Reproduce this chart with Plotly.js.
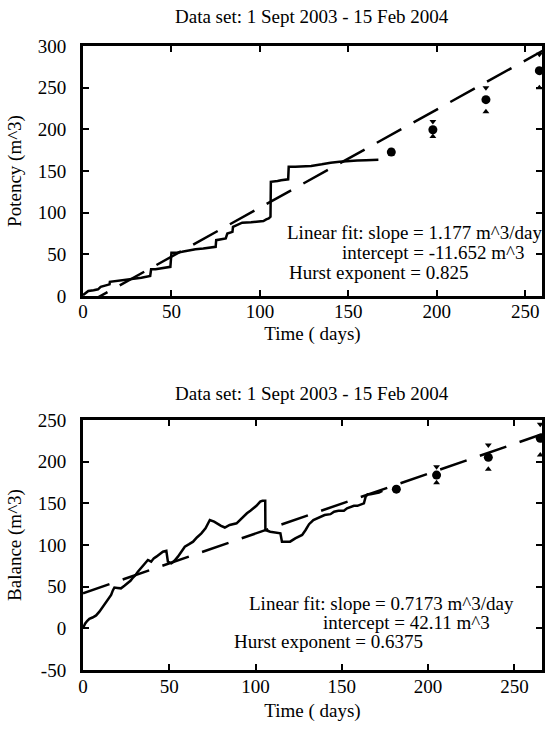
<!DOCTYPE html>
<html>
<head>
<meta charset="utf-8">
<script src="https://cdn.plot.ly/plotly-3.0.1.min.js"></script>
<style>html,body{margin:0;padding:0;background:#fff;}#chart{width:545px;height:729px;}</style>
</head>
<body>
<div id="chart"></div>
<script>
// ---- Top panel: Potency ----
const potDays = [0,2,3,6,8.5,10,12,15,15.2,19,22,26,29.4,33,38,38.5,41,43.7,47,49.4,50,53,56,60,63.6,68,72,75,75.3,78,80.7,81.6,83,84.5,84.8,86,88,90,95,99,102,103.6,105,106,106.2,110,112,116,116.3,120,124,129,135,140,145,150,155,160,167];
const potVals = [1,4,6,7,8,11,12,14,17,18,19,20,21,22,24,32,32,33,34,35,52,52,53,55,56,57,58,59,67,68,69,75,76,77,83,84,86,88,88.5,89,90,92,93,95,137,138,139,140,155,155,155.5,156,158,160,161,162,162.5,163,163.5];
const potPredDays = [174.3,197.8,227.8,258];
const potPredVals = [172.7,199.5,235.6,270.4];
const potPredUpper = [175,209.5,250,290];
const potPredLower = [170.5,191.5,221,250];
const potSlope = 1.177, potIntercept = -11.652;
const potFitDays = [0, 260];

// ---- Bottom panel: Balance ----
const balDays = [0,1.2,2.5,3.7,5.5,7.6,9.5,11.5,13,14.4,16.3,17.3,18.2,20,22,24,26,27.5,29,30.5,31.8,33,34.7,36,37.6,39.5,41,42.5,44.5,46.3,48.3,49.2,51.2,53,55,57,59,61.5,63.8,66,68.6,71,73.5,76,78.3,80,82.2,85,89,91,93,95,97,98.8,100.5,102.7,104,105.6,105.7,108.5,111,114.4,115.3,118,120,123,125,127,129,131,133.5,135.7,137.6,140,143.4,145.5,148,151.2,153,155,157,159,161,162.8,163.8,165,166.7,169,171.5,173.5];
const balVals = [0,5.5,9,11.5,13,15.5,20,25.5,30,34,40,45.5,49,48.5,48,51,54,57,61,64,68,71,76,78,82,80,84,86,89,92,93,80,78,81,86,92,98,101,104,109,114,120,130,128,125,123,121,124,126,130,135,138,141,144,147,152,153,153,118,116,115,114,104,104,104,108,110,112,118,125,130,132,134,136,137,140,141,141,144,146,147,147,149,150,158,161,161,162,163,165];
const balPredDays = [181.6,204.9,234.9,265];
const balPredVals = [167,183.9,205.2,228];
const balPredUpper = [169,194,220,245];
const balPredLower = [165,174.7,191,208];
const balSlope = 0.7173, balIntercept = 42.11;
const balFitDays = [0, 266];

const xTicks = [0,50,100,150,200,250];
const potTicks = [0,50,100,150,200,250,300];
const balTicks = [-50,0,50,100,150,200,250];
const balTickText = ["-50","0","50","100","150","200","250"];

const titleText = "Data set: 1 Sept 2003 - 15 Feb 2004";
const potLines = ["Linear fit: slope = 1.177 m^3/day","intercept = -11.652 m^3","Hurst exponent = 0.825"];
const balLines = ["Linear fit: slope = 0.7173 m^3/day","intercept = 42.11 m^3","Hurst exponent = 0.6375"];

const FONT = "Liberation Serif, Times New Roman, serif";
const FS = 19;

function fitY(days, s, b){ return days.map(d => s*d + b); }

function panel(xa, ya, days, vals, pd, pv, pu, pl, fd, s, b){
  return [
    {x: days, y: vals, xaxis: xa, yaxis: ya, mode: 'lines', line:{color:'#000', width:2.5}, hoverinfo:'skip'},
    {x: fd, y: fitY(fd, s, b), xaxis: xa, yaxis: ya, mode: 'lines', line:{color:'#000', width:2.5, dash:'28px,14px'}, hoverinfo:'skip'},
    {x: pd, y: pv, xaxis: xa, yaxis: ya, mode: 'markers', marker:{symbol:'circle', size:9, color:'#000'}},
    {x: pd, y: pu, xaxis: xa, yaxis: ya, mode: 'markers', marker:{symbol:'triangle-down', size:6, color:'#000'}},
    {x: pd, y: pl, xaxis: xa, yaxis: ya, mode: 'markers', marker:{symbol:'triangle-up', size:6, color:'#000'}}
  ];
}

const data = [].concat(
  panel('x','y', potDays, potVals, potPredDays, potPredVals, potPredUpper, potPredLower, potFitDays, potSlope, potIntercept),
  panel('x2','y2', balDays, balVals, balPredDays, balPredVals, balPredUpper, balPredLower, balFitDays, balSlope, balIntercept)
);

const W = 545, H = 729, ML = 83, MR = 3, MT = 46, MB = 59;
const PW = W - ML - MR, PH = H - MT - MB;
function px2x(px){ return (px - ML) / PW; }
function py2y(py){ return (H - MB - py) / PH; }

const axBase = {
  showline: true, linecolor: '#000', linewidth: 3, mirror: 'allticks',
  ticks: 'inside', ticklen: 6, tickwidth: 2, tickcolor: '#000',
  showgrid: false, zeroline: false, automargin: false,
  tickfont: {family: FONT, size: FS, color: '#000'}
};

const layout = {
  width: W, height: H,
  margin: {l: ML, r: MR, t: MT, b: MB},
  paper_bgcolor: '#fff', plot_bgcolor: '#fff',
  showlegend: false,
  font: {family: FONT, size: FS, color: '#000'},
  xaxis: Object.assign({}, axBase, {anchor: 'y', domain: [0,1], range: [0, 259.5], tickvals: xTicks, ticklabelstandoff: -4,
    title: {text: 'Time ( days)', font: {family: FONT, size: FS}, standoff: 6}}),
  yaxis: Object.assign({}, axBase, {anchor: 'x', domain: [py2y(296), 1], range: [0, 300], tickvals: potTicks, ticklabelstandoff: 10,
    title: {text: 'Potency (m^3)', font: {family: FONT, size: FS}, standoff: 12}}),
  xaxis2: Object.assign({}, axBase, {anchor: 'y2', domain: [0,1], range: [0, 266], tickvals: xTicks, ticklabelstandoff: -3,
    title: {text: 'Time ( days)', font: {family: FONT, size: FS}, standoff: 8}}),
  yaxis2: Object.assign({}, axBase, {anchor: 'x2', domain: [0, py2y(420)], range: [-50, 250], tickvals: balTicks, ticktext: balTickText, ticklabelstandoff: 10,
    title: {text: 'Balance (m^3)', font: {family: FONT, size: FS}, standoff: 12}}),
  annotations: [
    {text: titleText, xref:'paper', yref:'paper', x: px2x(312), y: py2y(17), xanchor:'center', yanchor:'middle', showarrow:false, font:{family:FONT, size:FS}},
    {text: titleText, xref:'paper', yref:'paper', x: px2x(312), y: py2y(393), xanchor:'center', yanchor:'middle', showarrow:false, font:{family:FONT, size:FS}},
    {text: potLines[0], xref:'paper', yref:'paper', x: px2x(285), y: py2y(232), xanchor:'left', yanchor:'middle', showarrow:false, font:{family:FONT, size:FS}},
    {text: potLines[1], xref:'paper', yref:'paper', x: px2x(527), y: py2y(252), xanchor:'right', yanchor:'middle', showarrow:false, font:{family:FONT, size:FS}},
    {text: potLines[2], xref:'paper', yref:'paper', x: px2x(287), y: py2y(272), xanchor:'left', yanchor:'middle', showarrow:false, font:{family:FONT, size:FS}},
    {text: balLines[0], xref:'paper', yref:'paper', x: px2x(247), y: py2y(603), xanchor:'left', yanchor:'middle', showarrow:false, font:{family:FONT, size:FS}},
    {text: balLines[1], xref:'paper', yref:'paper', x: px2x(492), y: py2y(622), xanchor:'right', yanchor:'middle', showarrow:false, font:{family:FONT, size:FS}},
    {text: balLines[2], xref:'paper', yref:'paper', x: px2x(232), y: py2y(641), xanchor:'left', yanchor:'middle', showarrow:false, font:{family:FONT, size:FS}}
  ]
};

Plotly.newPlot('chart', data, layout, {staticPlot: true, displayModeBar: false});
</script>
</body>
</html>
